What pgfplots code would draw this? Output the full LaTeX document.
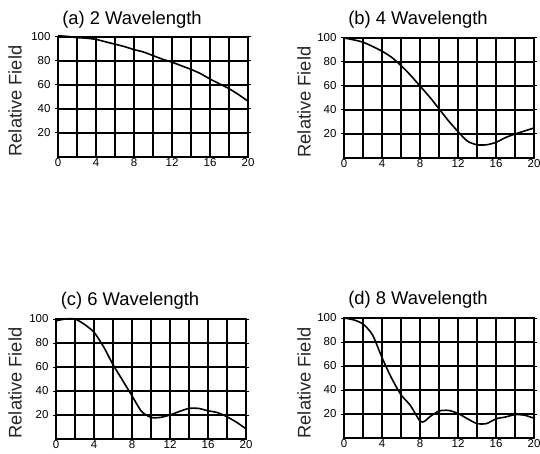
\documentclass[border=0pt]{standalone}
\usepackage{fontspec}
\setmainfont{Liberation Sans}
\usepackage{pgfplots}
\pgfplotsset{compat=1.18}
\pgfplotsset{fld/.style={scale only axis, anchor=south west, clip=false,
  width=190pt, height=120pt,
  xmin=0, xmax=20, ymin=0, ymax=100,
  xtick={0,2,...,20}, xticklabels={0,,4,,8,,12,,16,,20},
  ytick={20,40,...,100},
  xmajorgrids, ymajorgrids,
  every major grid/.style={black, line width=2pt},
  axis line style={black, line width=2pt},
  tick align=outside, major tick length=3pt,
  xtick style={draw=none}, ytick style={black, line width=1pt},
  tick label style={font=\fontsize{11.5}{12}\selectfont},
  /pgf/number format/assume math mode=true,
  yticklabel style={xshift=-1pt},
  xticklabel style={inner sep=1pt, yshift=3pt},
  no markers, cycle list={black\\},
  every axis plot/.append style={line width=1.6pt, smooth, tension=0.4}}}

\begin{document}
\begin{tikzpicture}[x=1pt, y=1pt]
\useasboundingbox (0,0) rectangle (540,453);
\tikzset{ttl/.style={font=\fontsize{18.4}{20}\selectfont},
  ylab/.style={font=\fontsize{18.3}{20}\selectfont, rotate=90, text=black!85}}

\begin{axis}[fld, at={(58pt,296pt)}]
\addplot coordinates {(0,101) (1,100.5) (2,99.5) (3,99) (4,98) (5,96) (6,94)
  (7,92) (8,89.5) (9,87.5) (10,84.5) (11,81.5) (12,79) (13,76) (14,73)
  (15,69.5) (16,65) (17,61) (18,57) (19,52) (20,46.5)};
\end{axis}
\node[ttl] at (132,433) {(a) 2 Wavelength};
\node[ylab] at (15,352) {Relative Field};

\begin{axis}[fld, at={(344pt,295pt)}]
\addplot coordinates {(0,100) (1,98.5) (2,96.5) (3,93) (4,89) (5,84) (6,77)
  (7,69) (8,60) (9,51) (10,41) (11,31) (12,22) (13,14) (14,11) (15,11)
  (16,13) (17,17) (18,20) (19,22.5) (20,25)};
\end{axis}
\node[ttl] at (418,433) {(b) 4 Wavelength};
\node[ylab] at (304,351) {Relative Field};

\begin{axis}[fld, at={(56pt,14pt)}]
\addplot coordinates {(0,98.5) (1,100) (2,100) (3,95.5) (4,89) (5,77) (6,62)
  (7,49) (8,36) (9,23) (10,18) (11,18) (12,20) (13,23) (14,25.5) (15,25.5)
  (16,23.5) (17,22) (18,18.5) (19,14) (20,8.5)};
\end{axis}
\node[ttl] at (130,152) {(c) 6 Wavelength};
\node[ylab] at (15,70) {Relative Field};

\begin{axis}[fld, at={(344pt,15pt)}]
\addplot coordinates {(0,100) (1,98.5) (2,95) (3,86) (4,67) (5,50) (6,36)
  (7,27) (8,14) (8.5,14) (9,17.5) (10,22.5) (11,23) (12,20.5) (13,16)
  (14,12) (15,12) (16,16) (17,17.5) (18,19.5) (19,19) (20,16.5)};
\end{axis}
\node[ttl] at (418,153) {(d) 8 Wavelength};
\node[ylab] at (304,70) {Relative Field};
\end{tikzpicture}
\end{document}
